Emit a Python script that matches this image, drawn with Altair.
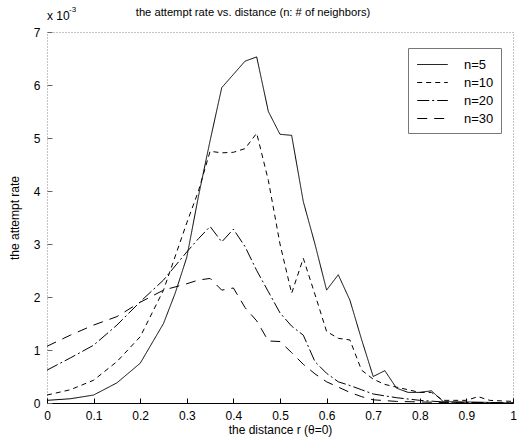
import altair as alt
import pandas as pd

# ---- data ----
series = ["n=5", "n=10", "n=20", "n=30"]

r_n5 = [0, 0.05, 0.1, 0.15, 0.2, 0.25, 0.275, 0.3, 0.325, 0.35, 0.375, 0.4, 0.425, 0.45,
        0.475, 0.5, 0.525, 0.55, 0.575, 0.6, 0.625, 0.65, 0.675, 0.7, 0.725, 0.75, 0.775,
        0.8, 0.825, 0.85, 0.875, 0.9, 0.95, 1.0]
rate_n5 = [0.05, 0.08, 0.15, 0.38, 0.75, 1.5, 2.07, 2.75, 3.9, 4.95, 5.95, 6.2, 6.45, 6.53,
           5.5, 5.07, 5.05, 3.8, 3.0, 2.13, 2.42, 1.94, 1.2, 0.5, 0.61, 0.28, 0.2,
           0.2, 0.23, 0.03, 0.02, 0.02, 0.01, 0.0]

r_n10 = [0, 0.05, 0.1, 0.15, 0.2, 0.25, 0.3, 0.325, 0.35, 0.375, 0.4, 0.425, 0.45, 0.475,
         0.5, 0.525, 0.55, 0.575, 0.6, 0.625, 0.65, 0.675, 0.7, 0.725, 0.75, 0.775, 0.8,
         0.825, 0.85, 0.875, 0.9, 0.925, 0.95, 0.975, 1.0]
rate_n10 = [0.15, 0.25, 0.43, 0.78, 1.25, 2.13, 3.4, 4.0, 4.75, 4.72, 4.73, 4.8, 5.09, 4.2,
            3.0, 2.07, 2.73, 2.05, 1.35, 1.22, 1.19, 0.62, 0.45, 0.35, 0.3, 0.25, 0.2,
            0.2, 0.05, 0.05, 0.05, 0.12, 0.05, 0.04, 0.03]

r_n20 = [0, 0.05, 0.1, 0.15, 0.2, 0.25, 0.3, 0.325, 0.35, 0.375, 0.4, 0.425, 0.45, 0.475,
         0.5, 0.525, 0.55, 0.575, 0.6, 0.625, 0.65, 0.675, 0.7, 0.75, 0.8, 0.85, 0.9, 0.95, 1.0]
rate_n20 = [0.62, 0.85, 1.09, 1.47, 1.91, 2.32, 2.85, 3.1, 3.33, 3.04, 3.28, 2.95, 2.5, 2.1,
            1.7, 1.45, 1.28, 0.78, 0.56, 0.4, 0.33, 0.25, 0.17, 0.1, 0.05, 0.02, 0.01, 0.01, 0.0]

r_n30 = [0, 0.05, 0.1, 0.15, 0.2, 0.25, 0.3, 0.325, 0.35, 0.375, 0.4, 0.425, 0.45, 0.475,
         0.5, 0.525, 0.55, 0.575, 0.6, 0.625, 0.65, 0.675, 0.7, 0.75, 0.8, 0.85, 0.9, 0.95, 1.0]
rate_n30 = [1.07, 1.28, 1.47, 1.63, 1.9, 2.13, 2.25, 2.32, 2.35, 2.13, 2.17, 1.8, 1.55, 1.17,
            1.16, 0.95, 0.73, 0.55, 0.4, 0.3, 0.2, 0.12, 0.06, 0.03, 0.02, 0.01, 0.0, 0.0, 0.0]

x_ticks = [0, 0.1, 0.2, 0.3, 0.4, 0.5, 0.6, 0.7, 0.8, 0.9, 1]
y_ticks = [0, 1, 2, 3, 4, 5, 6, 7]

title_text = "the attempt rate vs. distance (n: # of neighbors)"

rows = []
for name, xs, ys in [("n=5", r_n5, rate_n5), ("n=10", r_n10, rate_n10),
                     ("n=20", r_n20, rate_n20), ("n=30", r_n30, rate_n30)]:
    for a, b in zip(xs, ys):
        rows.append({"r": a, "rate": b, "n": name})
df = pd.DataFrame(rows)

W, H = 466, 371
FONT = "Liberation Sans"
dashes = [[1, 0], [5, 4], [12, 3, 2, 3], [10, 7]]

xscale = alt.Scale(domain=[0, 1], nice=False)
yscale = alt.Scale(domain=[0, 7], nice=False)

lines = alt.Chart(df).mark_line(strokeWidth=1, color="black").encode(
    x=alt.X("r:Q", scale=xscale,
            axis=alt.Axis(values=x_ticks, format=".1~f", title="the distance r (θ=0)",
                          tickSize=0, domainColor="black", labelPadding=7, grid=False,
                          titlePadding=3, labelFlush=False)),
    y=alt.Y("rate:Q", scale=yscale,
            axis=alt.Axis(values=y_ticks, title="the attempt rate", tickSize=0, grid=False,
                          domain=False, labelPadding=7, titlePadding=12)),
    strokeDash=alt.StrokeDash("n:N", scale=alt.Scale(domain=series, range=dashes),
                              legend=alt.Legend(orient="none", legendX=361, legendY=16,
                                                title=None, symbolType="M-1.7,0H1.7",
                                                symbolSize=324, symbolStrokeWidth=1,
                                                symbolStrokeColor="black",
                                                symbolOffset=8,
                                                labelFontSize=13, labelFont=FONT,
                                                labelColor="black",
                                                strokeColor="#777", padding=7,
                                                rowPadding=1, labelOffset=22)),
)

# inward tick marks (MATLAB style) drawn as extra axes on the inner side
ticks = alt.Chart(df).mark_line(opacity=0).encode(
    x=alt.X("r:Q", scale=xscale,
            axis=alt.Axis(values=x_ticks, orient="top", offset=-H, labels=False, grid=False,
                          domain=False, title=None, tickSize=5, tickColor="black")),
    y=alt.Y("rate:Q", scale=yscale,
            axis=alt.Axis(values=y_ticks, orient="right", offset=-W, labels=False, grid=False,
                          domain=False, title=None, tickSize=5, tickColor="#666")),
)

title_mark = alt.Chart(pd.DataFrame({"t": [title_text]})).mark_text(
    align="center", baseline="middle", fontSize=11.2, font=FONT, color="black"
).encode(text="t:N", x=alt.value(206), y=alt.value(-19))

exp_base = alt.Chart(pd.DataFrame({"t": ["x 10"]})).mark_text(
    align="left", baseline="middle", fontSize=12, font=FONT, color="black"
).encode(text="t:N", x=alt.value(0), y=alt.value(-16))
exp_sup = alt.Chart(pd.DataFrame({"t": ["-3"]})).mark_text(
    align="left", baseline="middle", fontSize=8, font=FONT, color="black"
).encode(text="t:N", x=alt.value(22), y=alt.value(-22))

chart = alt.layer(lines, ticks, title_mark, exp_base, exp_sup).resolve_axis(
    x="independent", y="independent"
).properties(
    width=W, height=H,
    background="white",
    autosize=alt.AutoSizeParams(type="none"),
    padding={"left": 47, "top": 32, "right": 12, "bottom": 42},
).configure_view(
    stroke="#888", strokeDash=[1, 2], strokeWidth=1
).configure_axis(
    labelFont=FONT, titleFont=FONT, labelFontSize=12, titleFontSize=12,
    labelColor="black", titleColor="black", titleFontWeight="normal", grid=False
)

chart.save("out.html", embed_options={"renderer": "svg", "actions": False})
